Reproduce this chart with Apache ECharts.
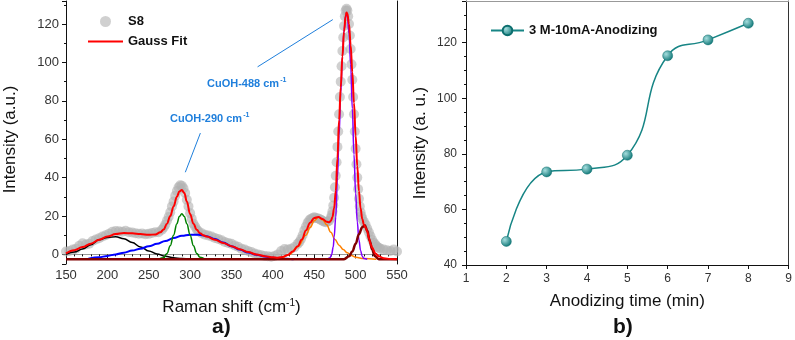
<!DOCTYPE html>
<html>
<head>
<meta charset="utf-8">
<script src="https://cdn.jsdelivr.net/npm/echarts@6/dist/echarts.min.js"></script>
<style>
html,body{margin:0;padding:0;background:#fff}
#chart{width:795px;height:340px}
</style>
</head>
<body>
<div id="chart"></div>
<script>
// ---- panel a) Raman spectrum (S8) ----
let s8 = [
  [150,1.5],[154,1.8],[158,2.5],[162,3.0],[166,4.5],[170,5.8],[174,5.2],[178,5.6],[182,7.0],[186,7.8],
  [190,8.4],[194,9.3],[198,10.0],[202,10.8],[206,11.8],[210,12.2],[214,12.0],[218,11.8],[222,12.3],[226,11.6],
  [230,11.4],[234,11.0],[238,10.8],[242,10.9],[246,10.5],[250,10.7],[254,11.2],[258,11.6],[262,11.5],[266,12.8],
  [268,14.0],[270,15.5],[272,17.5],[274,19.5],[276,22.0],[278,25.0],[280,27.5],[282,30.5],[284,33.0],[286,35.0],
  [288,36.0],[290,35.8],[292,34.5],[294,32.0],[296,28.5],[298,25.0],[300,21.5],[302,18.5],[304,16.0],[306,14.5],
  [308,13.0],[310,12.0],[314,11.0],[318,10.2],[322,9.8],[326,9.3],[330,8.5],[334,8.0],[338,7.4],[342,6.5],
  [346,6.0],[350,5.5],[354,4.6],[358,4.0],[362,3.0],[366,2.5],[370,1.8],[374,1.2],[378,0.5],[382,0.0],
  [386,-0.5],[390,-0.8],[394,-1.0],[398,-1.2],[402,-0.8],[406,0.0],[410,1.8],[414,2.8],[418,2.5],[422,3.0],
  [426,3.8],[430,5.5],[432,6.5],[434,8.0],[436,10.0],[438,12.5],[440,14.5],[442,16.5],[444,17.8],[446,18.5],
  [448,19.0],[450,19.3],[452,19.0],[454,18.8],[456,18.5],[458,18.0],[460,17.5],[462,17.0],[464,16.8],[466,17.0],
  [468,17.5],[470,19.0],[471,20.5],[472,22.5],[473,25.5],[474,29.5],[475,35],[476,41],[477,48],[478,56],
  [479,64],[480,73],[481,82],[482,90],[483,98],[484,106],[485,113],[486,119],[487,124],[488,127],
  [489,128],[490,127],[491,124],[492,120],[493,114],[494,107],[495,99],[496,91],[497,82],[498,73],
  [499,64],[500,55],[501,47],[502,40],[503,34],[504,29],[505,25],[506,22],[507,20],[508,18.5],
  [510,17],[512,15.5],[514,13.5],[516,11.5],[518,9.5],[520,7.5],[522,6],[524,5],[526,4],[528,3.5],
  [530,3],[534,2.5],[538,2.2],[542,1.8],[546,2.6],[550,1.5]
];
let gaussFit = [
  [150,0.5],[160,2.2],[170,3.8],[180,5.6],[190,7.6],[200,9.3],[210,10.6],[220,11.1],[230,11.0],[240,10.6],
  [250,10.2],[258,10.4],[264,11.5],[268,13],[272,16],[276,20],[280,25],[284,30],[287,32.8],[290,33.5],
  [293,32],[296,27.5],[300,21],[304,16],[308,12.8],[312,11],[316,10],[320,9.3],[330,7.6],[340,6],
  [350,4.3],[360,2.7],[370,1.2],[380,0],[390,-0.9],[400,-1.5],[406,-1.7],[412,-1.3],[418,-0.3],[424,1.5],
  [430,4.2],[435,7.8],[440,12.5],[445,16.5],[450,19],[455,19.5],[460,18.5],[465,17],[468,16.7],[470,17.4],
  [472,19.5],[474,24],[476,33],[478,50],[480,70],[482,87],[484,103],[486,116],[488,124.5],[489,126],
  [490,125.5],[492,120],[494,109],[496,95],[498,79],[500,62],[502,46],[504,33],[506,24],[508,18.5],
  [510,15.5],[512,14],[514,11.8],[516,8.6],[518,5.6],[520,3.4],[524,0.5],[528,-1.0],[534,-2.0],[542,-2.4],[550,-2.5]
];
let peak210 = [
  [150,0.0],[160,1.2],[170,2.8],[180,5.0],[190,7.6],[200,8.8],[210,9.2],[220,8.2],[230,6.2],[240,3.9],
  [250,1.8],[260,0.2],[270,-1.0],[280,-1.8],[290,-2.2],[300,-2.4],[310,-2.5]
];
let peak305 = [
  [177,-2.2],[190,-1.5],[200,-0.8],[210,0],[220,0.9],[230,2],[240,3],[250,4.2],[260,5.5],[270,7],
  [280,8.5],[290,9.7],[300,10.3],[310,10.3],[320,9.5],[330,8],[340,6.2],[350,4.3],[360,2.5],[370,1],
  [380,-0.2],[390,-1.1],[400,-1.8],[410,-2.2],[425,-2.5]
];
let peak290 = [
  [262,-2.5],[268,-1.8],[272,0.5],[276,4.5],[280,10],[284,16],[287,19.8],[290,21.2],[293,19.8],[296,16],
  [300,10],[304,4.5],[308,0.5],[312,-1.5],[318,-2.5]
];
let peak455 = [
  [400,-2.5],[410,-2],[420,0],[430,4],[440,10],[445,14],[450,17.5],[455,19.3],[460,18],[465,15.5],
  [470,11.5],[475,7.8],[480,4.8],[485,2.5],[490,0.8],[495,-0.6],[500,-1.5],[510,-2.2],[525,-2.5]
];
let peak488 = [
  [466,-2.5],[469,-1.8],[471,0],[473,4],[474,9],[476,19.5],[478,40],[480,62],[482,84],[484,103],
  [486,117],[488,124],[489,125],[490,124],[492,115],[494,99],[496,76],[498,52],[500,32],[502,17],
  [504,7.5],[506,2],[508,-1],[510,-2.2],[514,-2.5]
];
let peak511 = [
  [150,-2.5],[486,-2.5],[492,-1],[496,1.5],[500,5.5],[504,10.5],[508,14.2],[511,15.2],[514,12.5],[517,7],
  [520,2.5],[523,-0.8],[528,-2.5],[550,-2.5]
];

// ---- panel b) intensity vs anodizing time ----
let timeMin = [2, 3, 4, 5, 6, 7, 8];
let intensity = [48.5, 73.5, 74.5, 79.5, 115.3, 121, 127];

let font = 'Liberation Sans, Arial, sans-serif';
let blueTxt = '#1f7fdc';

let chart = echarts.init(document.getElementById('chart'));

function comp(data, color, w, z) {
    return {
        type: 'line', xAxisIndex: 0, yAxisIndex: 0, data: data,
        smooth: 0.4, smoothMonotone: 'x', symbol: 'none', silent: true,
        lineStyle: {color: color, width: w}, z: z
    };
}

function frameAxis(gridIndex, pos, min, max, color) {
    return {
        type: 'value', gridIndex: gridIndex, position: pos, min: min, max: max,
        axisLine: {show: true, lineStyle: {color: color, width: 1}},
        axisTick: {show: false}, axisLabel: {show: false}, splitLine: {show: false}
    };
}

let option = {
    animation: false,
    backgroundColor: '#fff',
    grid: [
        {left: 66, right: 398, top: 1, bottom: 76},
        {left: 466, right: 3, top: 1, bottom: 75}
    ],
    legend: [
        {
            data: [
                {name: 'S8', icon: 'circle'},
                {name: 'Gauss Fit', icon: 'path://M0,0H35V2.2H0Z'}
            ],
            orient: 'vertical', left: 83, top: 10,
            itemWidth: 35, itemHeight: 11, itemGap: 7,
            textStyle: {fontFamily: font, fontWeight: 'bold', fontSize: 13, color: '#111'}
        },
        {
            data: ['3 M-10mA-Anodizing'], left: 485, top: 19,
            itemWidth: 33, itemHeight: 12,
            textStyle: {fontFamily: font, fontWeight: 'bold', fontSize: 13, color: '#111'}
        }
    ],
    xAxis: [
        {
            type: 'value', gridIndex: 0, min: 150, max: 550, interval: 50,
            name: 'Raman shift (cm{s|-1})', nameLocation: 'middle', nameGap: 34,
            nameTextStyle: {fontFamily: font, fontSize: 17, color: '#111',
                rich: {s: {fontFamily: font, fontSize: 10, color: '#111', verticalAlign: 'top', padding: [0, 0, 8, 0]}}},
            axisLine: {lineStyle: {color: '#111'}},
            axisTick: {length: 4, lineStyle: {color: '#111'}},
            minorTick: {show: true, splitNumber: 5, length: 2, lineStyle: {color: '#111'}},
            axisLabel: {fontFamily: font, fontSize: 13, color: '#333', margin: 5},
            splitLine: {show: false}
        },
        frameAxis(0, 'top', 150, 550, '#999'),
        {
            type: 'value', gridIndex: 1, min: 1, max: 9, interval: 1,
            name: 'Anodizing time (min)', nameLocation: 'middle', nameGap: 28,
            nameTextStyle: {fontFamily: font, fontSize: 17, color: '#111'},
            axisLine: {lineStyle: {color: '#111'}},
            axisTick: {length: 4, lineStyle: {color: '#111'}},
            axisLabel: {fontFamily: font, fontSize: 12, color: '#333', margin: 8},
            splitLine: {show: false}
        },
        frameAxis(1, 'top', 1, 9, '#999')
    ],
    yAxis: [
        {
            type: 'value', gridIndex: 0, min: -5, max: 132, splitNumber: 7,
            name: 'Intensity (a.u.)', nameLocation: 'middle', nameGap: 47,
            nameTextStyle: {fontFamily: font, fontSize: 17, color: '#111', padding: [0, 14, 0, 0]},
            axisLine: {show: true, lineStyle: {color: '#111'}},
            axisTick: {length: 4, lineStyle: {color: '#111'}},
            minorTick: {show: true, splitNumber: 2, length: 2, lineStyle: {color: '#111'}},
            axisLabel: {fontFamily: font, fontSize: 13, color: '#333', margin: 7,
                showMinLabel: false, showMaxLabel: false},
            splitLine: {show: false}
        },
        frameAxis(0, 'right', -5, 132, '#111'),
        {
            type: 'value', gridIndex: 1, min: 40, max: 135, interval: 20,
            name: 'Intensity (a. u.)', nameLocation: 'middle', nameGap: 37,
            nameTextStyle: {fontFamily: font, fontSize: 17, color: '#111', padding: [0, 20, 0, 0]},
            axisLine: {show: true, lineStyle: {color: '#111'}},
            axisTick: {length: 4, lineStyle: {color: '#111'}},
            minorTick: {show: true, splitNumber: 4, length: 2, lineStyle: {color: '#111'}},
            axisLabel: {fontFamily: font, fontSize: 12, color: '#333', margin: 9, showMaxLabel: false},
            splitLine: {show: false}
        },
        frameAxis(1, 'right', 40, 135, '#333')
    ],
    series: [
        {
            name: 'S8', type: 'scatter', xAxisIndex: 0, yAxisIndex: 0, data: s8,
            symbolSize: 10, itemStyle: {color: '#b0b0b0', opacity: 0.6}, z: 1
        },
        comp(peak210, '#000000', 1.5, 2),
        comp(peak305, '#0000ff', 2, 2),
        comp(peak290, '#008000', 1.5, 2),
        comp(peak455, '#ff8000', 1.5, 2),
        comp(peak488, '#8000ff', 1.5, 2),
        comp(peak511, '#800000', 2.5, 3),
        {
            name: 'Gauss Fit', type: 'line', xAxisIndex: 0, yAxisIndex: 0, data: gaussFit,
            smooth: 0.4, smoothMonotone: 'x', symbol: 'none',
            lineStyle: {color: '#ff0000', width: 2}, itemStyle: {color: '#ff0000'}, z: 4,
            markLine: {
                silent: true, symbol: ['none', 'arrow'], symbolSize: [0, 8],
                label: {show: false},
                lineStyle: {color: blueTxt, width: 1, type: 'solid'},
                data: [
                    [{coord: [381.5, 97.7]}, {coord: [472.4, 122.3]}],
                    [{coord: [312.4, 63.2]}, {coord: [294.2, 42.8]}]
                ]
            }
        },
        {
            name: '3 M-10mA-Anodizing', type: 'line', xAxisIndex: 2, yAxisIndex: 2,
            data: timeMin.map((t, i) => [t, intensity[i]]),
            smooth: 0.5, symbol: 'circle', symbolSize: 10,
            lineStyle: {color: '#178585', width: 1.5},
            itemStyle: {
                color: new echarts.graphic.RadialGradient(0.35, 0.35, 0.7, [
                    {offset: 0, color: '#a6dede'},
                    {offset: 1, color: '#0c7575'}
                ]),
                borderColor: '#0c6e6e', borderWidth: 0.5
            },
            z: 3
        }
    ],
    graphic: [
        {
            type: 'text', left: 207, top: 77,
            style: {text: 'CuOH-488 cm{s|-1}', fill: blueTxt, font: 'bold 11px ' + font,
                rich: {s: {fontSize: 7, fill: blueTxt, fontWeight: 'bold', verticalAlign: 'top', padding: [0, 0, 6, 1]}}}
        },
        {
            type: 'text', left: 170, top: 112,
            style: {text: 'CuOH-290 cm{s|-1}', fill: blueTxt, font: 'bold 11px ' + font,
                rich: {s: {fontSize: 7, fill: blueTxt, fontWeight: 'bold', verticalAlign: 'top', padding: [0, 0, 6, 1]}}}
        },
        {
            type: 'text', left: 212, top: 317,
            style: {text: 'a)', fill: '#111', font: 'bold 21px ' + font}
        },
        {
            type: 'text', left: 613, top: 317,
            style: {text: 'b)', fill: '#111', font: 'bold 21px ' + font}
        }
    ]
};

chart.setOption(option);
</script>
</body>
</html>
